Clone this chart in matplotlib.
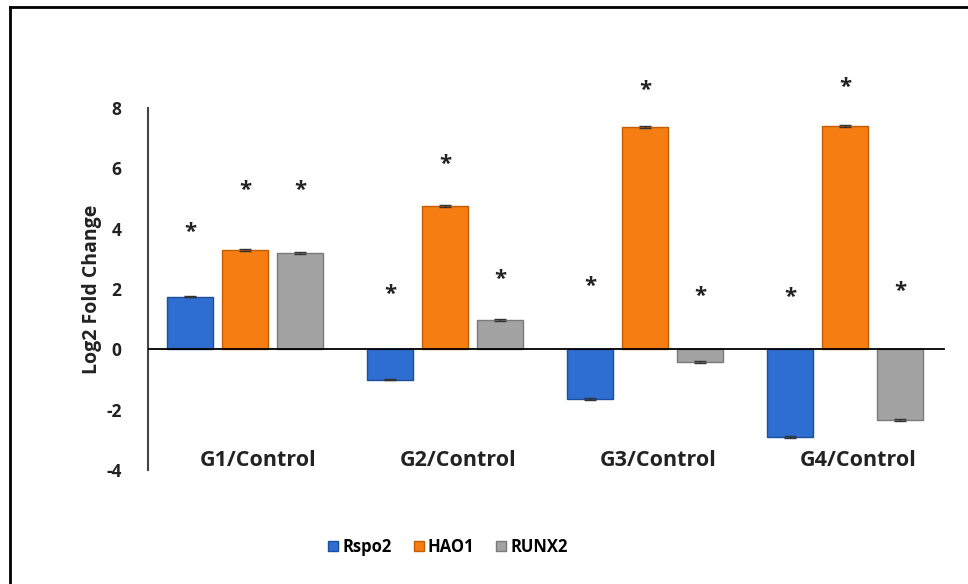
import numpy as np
from matplotlib import pyplot as plt
from matplotlib.lines import Line2D
from matplotlib.transforms import offset_copy

groups = ["G1/Control", "G2/Control", "G3/Control", "G4/Control"]
genes = ["Rspo2", "HAO1", "RUNX2"]
colors = ["#2F6ED1", "#F57D12", "#A3A3A3"]
edges = ["#1D4E9E", "#C45E06", "#7A7A7A"]

rspo2 = [1.75, -1.0, -1.65, -2.9]
hao1 = [3.3, 4.76, 7.37, 7.4]
runx2 = [3.2, 0.96, -0.42, -2.35]
values = [rspo2, hao1, runx2]

# heights of the significance stars
star_rspo2 = [4.0, 1.95, 2.2, 1.85]
star_hao1 = [5.4, 6.25, 8.7, 8.8]
star_runx2 = [5.4, 2.45, 1.9, 2.05]
stars = [star_rspo2, star_hao1, star_runx2]

plt.rcParams['font.family'] = ['Open Sans', 'DejaVu Sans']
plt.rcParams['font.weight'] = 'bold'
plt.rcParams['axes.unicode_minus'] = False

fig = plt.figure(figsize=(9.68, 5.84), dpi=100)
ax = fig.add_axes([148/968, 1-470/584, 800/968, 362/584])
star_trans = offset_copy(ax.transData, fig=fig, y=-4, units='dots')

x = np.arange(len(groups))
width = 0.23
step = 0.275
for i in range(len(genes)):
    pos = x + (i - 1) * step - 0.015
    ax.bar(pos, values[i], width, color=colors[i], edgecolor=edges[i],
           linewidth=1.0, label=genes[i], zorder=2)
    ax.errorbar(pos, values[i], yerr=0.03, fmt='none', ecolor='#333333',
                elinewidth=1, capsize=4, zorder=3)
    for j in range(len(groups)):
        ax.text(pos[j], stars[i][j], "*", ha='center', va='center',
                fontsize=16, fontweight='bold', color='#222222',
                transform=star_trans, clip_on=False)

ax.axhline(0, xmax=0.995, color='black', linewidth=1.3, zorder=4)
ax.set_xlim(-0.5, 3.5)
ax.set_ylim(-4, 8)
ax.set_yticks([-4, -2, 0, 2, 4, 6, 8])
ax.set_xticks([])
ax.tick_params(axis='y', length=0, labelsize=12.5, pad=19, labelcolor='#222222')
for s in ['top', 'right', 'bottom']:
    ax.spines[s].set_visible(False)
ax.spines['left'].set_linewidth(1.5)
ax.spines['left'].set_color('#444444')
ax.set_ylabel("Log2 Fold Change", fontsize=14, fontweight='bold',
              labelpad=3, color='#222222')

for j in range(len(groups)):
    ax.text(x[j] + 0.05, -3.7, groups[j], ha='center', va='center',
            fontsize=15.5, fontweight='bold', color='#222222')

ax.legend(loc='center', bbox_to_anchor=(448/968, 1-547/584),
          bbox_transform=fig.transFigure, ncol=3, frameon=False,
          handlelength=0.6, handleheight=0.6, handletextpad=0.25,
          columnspacing=1.3, fontsize=12)

# outer frame lines
fig.add_artist(Line2D([10/968, 10/968], [0, 1-7/584], color='black', lw=2))
fig.add_artist(Line2D([10/968, 1], [1-7/584, 1-7/584], color='black', lw=2))

plt.savefig("out.png", dpi=100)
